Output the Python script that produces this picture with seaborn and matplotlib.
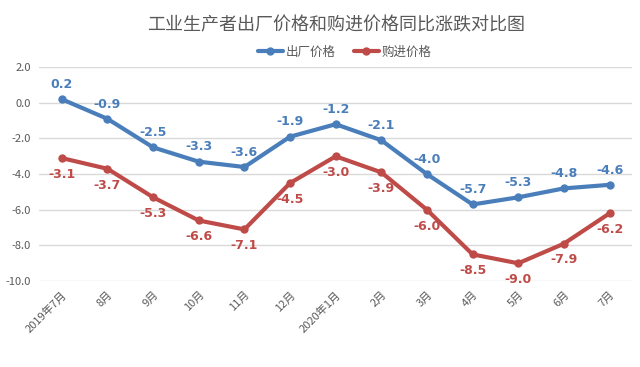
import matplotlib
matplotlib.use('Agg')
import matplotlib.pyplot as plt
import pandas as pd
import seaborn as sns

months = ['2019年7月', '8月', '9月', '10月', '11月', '12月', '2020年1月',
          '2月', '3月', '4月', '5月', '6月', '7月']
chuchang = [0.2, -0.9, -2.5, -3.3, -3.6, -1.9, -1.2, -2.1, -4.0, -5.7, -5.3, -4.8, -4.6]
goujin = [-3.1, -3.7, -5.3, -6.6, -7.1, -4.5, -3.0, -3.9, -6.0, -8.5, -9.0, -7.9, -6.2]
yticks = [2.0, 0.0, -2.0, -4.0, -6.0, -8.0, -10.0]

sns.set_style('white')
plt.rcParams['font.family'] = ['Noto Sans CJK SC', 'DejaVu Sans']

df = pd.DataFrame({'month': months * 2,
                   'value': chuchang + goujin,
                   'series': ['出厂价格'] * len(months) + ['购进价格'] * len(months)})
df['x'] = list(range(len(months))) * 2

blue = '#4A7EBB'
red = '#BE4B48'
grey = '#595959'

fig = plt.figure(figsize=(6.4, 3.67), dpi=100)
ax = fig.add_axes([0.061, 0.234, 0.927, 0.583])

sns.lineplot(data=df, x='x', y='value', hue='series', palette=[blue, red],
             linewidth=3, marker='o', markersize=6, markeredgewidth=0, ax=ax)

for i, v in enumerate(chuchang):
    ax.annotate(f'{v:.1f}', (i, v), xytext=(0, 6), textcoords='offset points',
                ha='center', va='bottom', color=blue, fontsize=9, fontweight='bold',
                family='DejaVu Sans')
for i, v in enumerate(goujin):
    ax.annotate(f'{v:.1f}', (i, v), xytext=(0, -7), textcoords='offset points',
                ha='center', va='top', color=red, fontsize=9, fontweight='bold',
                family='DejaVu Sans')

ax.set_xlim(-0.5, len(months) - 0.5)
ax.set_ylim(-10.0, 2.0)
ax.set_yticks(yticks)
ax.set_yticklabels([f'{t:.1f}' for t in yticks], color=grey, fontsize=8)
ax.set_xticks(range(len(months)))
ax.set_xticklabels(months, rotation=45, ha='right', rotation_mode='anchor',
                   color=grey, fontsize=8)
ax.tick_params(length=0, pad=6)
ax.yaxis.grid(True, color='#D9D9D9', linewidth=1)
ax.set_xlabel('')
ax.set_ylabel('')
for s in ax.spines.values():
    s.set_visible(False)

ax.legend(loc='center', bbox_to_anchor=(0.515, 1.07), ncol=2, frameon=False,
          fontsize=9, handlelength=2.0, handletextpad=0.2, columnspacing=1.5,
          labelcolor=grey)

fig.suptitle('工业生产者出厂价格和购进价格同比涨跌对比图', x=0.525, y=0.955,
             fontsize=13, color=grey)

fig.savefig('out.png', dpi=100)
